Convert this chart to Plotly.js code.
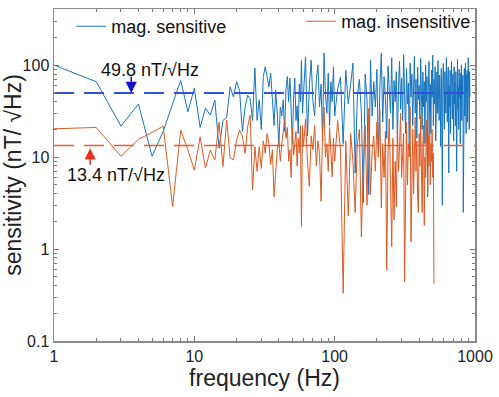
<!DOCTYPE html>
<html>
<head>
<meta charset="utf-8">
<script src="https://cdn.plot.ly/plotly-3.0.1.min.js"></script>
<style>
  html, body { margin: 0; padding: 0; background: #fff; }
  #plot { width: 499px; height: 397px; }
</style>
</head>
<body>
<div id="plot"></div>
<script>
// frequency grid (Hz): 1 Hz steps, then 2 Hz, then 5 Hz
function range(a, b, step) {
  const out = [];
  for (let v = a; v <= b + 1e-9; v += step) out.push(v);
  return out;
}
const freqLow = range(1, 60, 1);
const freqMid = range(62, 100, 2);
const freqHighSensitive = range(105, 920, 5);
const freqHighInsensitive = range(105, 510, 5);

// mag. sensitive (nT/√Hz)
const sensitiveLow = [
  100, 66, 21.7, 37.7, 10.2, 19, 38, 68, 31, 56,
  21, 34, 28.6, 41.7, 12.5, 25, 27, 58, 45, 66,
  53, 19, 35, 47, 43, 25, 93, 25, 42, 20,
  75, 96, 75, 58, 82, 35, 22, 53, 30, 13,
  35, 28, 42, 19, 55, 75, 40, 72, 33, 14,
  45, 72, 25, 36, 18, 62, 40, 112, 30, 55
];
const sensitiveMid = [
  123, 17, 58, 113, 40, 28, 70, 100, 35, 62,
  15, 135, 48, 30, 82, 22, 66, 40, 95, 28
];
const sensitiveHigh = [
  55, 74, 14, 88, 38, 62, 105, 6.7, 45, 70,
  30, 3.2, 80, 42, 3.9, 113, 28, 66, 35, 90,
  10, 58, 135, 24, 75, 44, 16, 98, 52, 30,
  120, 20, 68, 40, 85, 15, 60, 110, 33, 72,
  25, 130, 48, 18, 92, 38, 64, 12, 105, 45,
  80, 22, 58, 125, 30, 70, 16, 95, 42, 60,
  26, 118, 50, 20, 84, 35, 66, 14, 100, 40,
  75, 3.7, 55, 110, 28, 62, 18, 88, 45, 128,
  22, 70, 38, 96, 15, 60, 84, 30, 112, 42,
  25, 78, 50, 13, 92, 36, 3.0, 68, 104, 40,
  20, 85, 55, 30, 120, 45, 24, 72, 95, 6.7,
  60, 35, 88, 18, 70, 110, 42, 26, 80, 52,
  15, 96, 38, 64, 22, 85, 48, 7, 76, 115,
  33, 58, 20, 90, 44, 68, 14, 82, 36, 100,
  25, 62, 48, 78, 2.5, 70, 40, 92, 28, 60,
  105, 35, 18, 80, 50, 88, 24, 66, 120, 38,
  72, 20, 85, 45
];

// mag. insensitive (nT/√Hz)
const insensitiveLow = [
  20.3, 21, 10.2, 15.6, 18.5, 21.7, 2.9, 19.6, 11.9, 7.2,
  16.6, 7.6, 11.9, 9.3, 24, 7.9, 25.3, 9.8, 9.3, 15.3,
  19.6, 17, 11, 21.4, 28.6, 4.4, 13, 7, 13, 7.5,
  15, 11, 18, 14, 8.3, 12, 3.7, 6.5, 12, 15,
  9, 14, 20, 25, 16, 21, 9, 12, 6, 21,
  10.5, 14, 19, 8, 16, 11, 22, 1.75, 22, 13
];
const insensitiveMid = [
  26, 9, 4.8, 17, 12, 22, 8, 15, 11, 3.3,
  19, 35, 10, 14, 7, 21, 12, 6.1, 16, 9
];
const insensitiveHigh = [
  25, 12, 0.33, 15, 2.3, 18, 9, 2.5, 14, 20,
  1.36, 8, 22, 3.0, 34, 3.9, 12, 17, 7, 24,
  10, 33, 2.8, 14, 6, 19, 0.59, 11, 26, 5,
  1.06, 16, 2.07, 9, 2.9, 22, 7, 13, 30, 6,
  11, 18, 0.44, 8, 24, 5, 14, 10, 35, 1.2,
  9, 20, 4, 12, 27, 7, 15, 3.8, 2.5, 18,
  8, 28, 5, 2.5, 13, 22, 1.8, 10, 6, 25,
  12, 4, 17, 8, 30, 5, 14, 9, 20, 6,
  11, 0.42
];

// average levels and where the arrows point
const sensitiveLevel = 49.8;
const insensitiveLevel = 13.4;
const levelLabels = ['49.8 nT/√Hz', '13.4 nT/√Hz'];
const xTickVals = [1, 10, 100, 1000];
const yTickVals = [0.1, 1, 10, 100];

const blue = '#1574c0';
const orange = '#dd5a22';
const font = 'Liberation Sans, Arial, sans-serif';

const data = [
  {
    x: freqLow.concat(freqMid, freqHighSensitive),
    y: sensitiveLow.concat(sensitiveMid, sensitiveHigh),
    type: 'scatter', mode: 'lines', name: 'mag. sensitive',
    line: { color: blue, width: 1 }, legend: 'legend'
  },
  {
    x: freqLow.concat(freqMid, freqHighInsensitive),
    y: insensitiveLow.concat(insensitiveMid, insensitiveHigh),
    type: 'scatter', mode: 'lines', name: 'mag. insensitive',
    line: { color: orange, width: 1 }, legend: 'legend2'
  },
  {
    x: [xTickVals[0], xTickVals[3]], y: [sensitiveLevel, sensitiveLevel],
    type: 'scatter', mode: 'lines', showlegend: false,
    line: { color: '#2f52d6', width: 2, dash: '20px,10px' }
  },
  {
    x: [xTickVals[0], xTickVals[3]], y: [insensitiveLevel, insensitiveLevel],
    type: 'scatter', mode: 'lines', showlegend: false,
    line: { color: '#e2602e', width: 1.5, dash: '20px,10px' }
  }
];

const axisCommon = {
  type: 'log',
  showline: true, linecolor: '#8a8a8a', linewidth: 1.5, mirror: 'ticks',
  ticks: 'inside', ticklen: 5, tickcolor: '#777', tickwidth: 1,
  showgrid: false, zeroline: false,
  tickfont: { family: font, size: 16, color: '#222' },
  minor: { ticks: 'inside', ticklen: 3, tickcolor: '#777', dtick: 'D1', showgrid: false }
};

const layout = {
  width: 499, height: 397,
  margin: { l: 54, r: 24, t: 9, b: 56, autoexpand: false },
  paper_bgcolor: '#fff', plot_bgcolor: '#fff',
  font: { family: font, color: '#222' },
  xaxis: Object.assign({}, axisCommon, {
    range: [0, 3], tickvals: xTickVals, ticktext: xTickVals.map(String),
    title: { text: 'frequency (Hz)', font: { family: font, size: 23, color: '#222' }, standoff: 0 }
  }),
  yaxis: Object.assign({}, axisCommon, {
    range: [-1, 2.61], tickvals: yTickVals, ticktext: yTickVals.map(String),
    title: { text: 'sensitivity (nT/ √Hz)', font: { family: font, size: 23, color: '#222' }, standoff: 0 }
  }),
  legend: {
    x: 0.041, y: 1.003, xanchor: 'left', yanchor: 'top',
    bgcolor: 'rgba(0,0,0,0)', font: { family: font, size: 18, color: '#111' }
  },
  legend2: {
    x: 0.587, y: 1.018, xanchor: 'left', yanchor: 'top',
    bgcolor: 'rgba(0,0,0,0)', font: { family: font, size: 18, color: '#111' }
  },
  showlegend: true,
  annotations: [
    {
      x: Math.log10(4.85), y: Math.log10(88), xref: 'x', yref: 'y',
      text: levelLabels[0], showarrow: false,
      font: { family: font, size: 18, color: '#111' }
    },
    {
      x: Math.log10(3.55), y: Math.log10(sensitiveLevel), xref: 'x', yref: 'y',
      text: '', showarrow: true, ax: 0, ay: -18,
      arrowhead: 2, arrowsize: 1.5, arrowwidth: 1.5, arrowcolor: '#1414c4', standoff: 0
    },
    {
      x: Math.log10(2.77), y: Math.log10(6.4), xref: 'x', yref: 'y',
      text: levelLabels[1], showarrow: false,
      font: { family: font, size: 18, color: '#111' }
    },
    {
      x: Math.log10(1.81), y: Math.log10(12.5), xref: 'x', yref: 'y',
      text: '', showarrow: true, ax: 0, ay: 18,
      arrowhead: 2, arrowsize: 1.5, arrowwidth: 1.5, arrowcolor: '#e8341e', standoff: 0
    }
  ]
};

Plotly.newPlot('plot', data, layout, { staticPlot: true, displayModeBar: false });
</script>
</body>
</html>
